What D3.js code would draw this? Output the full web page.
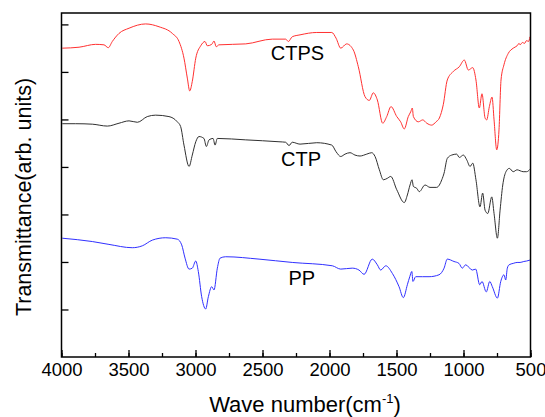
<!DOCTYPE html>
<html>
<head>
<meta charset="utf-8">
<script src="https://cdn.jsdelivr.net/npm/d3@7"></script>
<style>
  body { margin: 0; background: #fff; }
  text { font-family: "Liberation Sans", Arial, sans-serif; }
</style>
</head>
<body>
<svg id="chart" width="545" height="417"></svg>
<script>
// FTIR spectra, values (wavenumber, transmittance in arb. units)

const xTicks = [4000, 3500, 3000, 2500, 2000, 1500, 1000, 500];
const yTicks = [1, 2, 3, 4, 5, 6, 7];

const ctps = [
  [3994, 6.50], [3869, 6.52], [3745, 6.58], [3683, 6.57], [3651, 6.51], [3621, 6.64],
  [3571, 6.81], [3496, 6.92], [3372, 7.01], [3272, 6.95], [3173, 6.81], [3123, 6.64],
  [3086, 6.29], [3061, 5.87], [3043, 5.60], [3024, 5.80], [2998, 6.29], [2961, 6.55],
  [2929, 6.64], [2912, 6.55], [2879, 6.58], [2862, 6.65], [2845, 6.53], [2825, 6.57],
  [2625, 6.59], [2427, 6.69], [2327, 6.69], [2307, 6.64], [2278, 6.74], [2220, 6.78],
  [2095, 6.83], [1983, 6.83], [1951, 6.71], [1916, 6.50], [1872, 6.59], [1822, 6.46],
  [1785, 6.11], [1735, 5.48], [1703, 5.40], [1673, 5.56], [1643, 5.41], [1603, 4.92],
  [1573, 5.06], [1541, 5.27], [1498, 5.06], [1469, 4.95], [1442, 4.80], [1412, 5.06],
  [1394, 5.16], [1382, 5.24], [1374, 5.06], [1337, 4.95], [1304, 4.99], [1274, 4.92],
  [1237, 4.88], [1205, 4.95], [1180, 5.03], [1151, 5.31], [1121, 5.83], [1076, 6.01],
  [1031, 6.11], [994, 6.25], [964, 6.04], [931, 6.09], [907, 5.83], [882, 5.24],
  [862, 5.54], [839, 5.03], [827, 4.99], [807, 5.27], [787, 5.47], [772, 4.99],
  [752, 4.36], [735, 4.78], [720, 5.83], [698, 6.15], [666, 6.39], [629, 6.50],
  [600, 6.55], [585, 6.60], [578, 6.57], [560, 6.62], [545, 6.60], [529, 6.66],
  [515, 6.64], [504, 6.74]
];

const ctp = [
  [3994, 4.91], [3894, 4.91], [3770, 4.90], [3658, 4.86], [3571, 4.92], [3496, 4.97],
  [3434, 4.94], [3360, 5.06], [3297, 5.09], [3198, 5.06], [3136, 4.95], [3111, 4.85],
  [3086, 4.46], [3048, 4.01], [3024, 4.25], [2998, 4.53], [2974, 4.64], [2937, 4.60],
  [2919, 4.43], [2899, 4.57], [2869, 4.60], [2854, 4.46], [2837, 4.60], [2625, 4.57],
  [2377, 4.53], [2327, 4.52], [2302, 4.45], [2278, 4.52], [2220, 4.48], [2095, 4.51],
  [1983, 4.46], [1951, 4.32], [1916, 4.22], [1884, 4.27], [1847, 4.30], [1810, 4.25],
  [1772, 4.23], [1722, 4.27], [1685, 4.30], [1660, 4.22], [1628, 3.94], [1598, 3.73],
  [1569, 3.76], [1543, 3.80], [1498, 3.52], [1442, 3.25], [1419, 3.41], [1399, 3.62],
  [1384, 3.73], [1374, 3.59], [1349, 3.55], [1330, 3.48], [1287, 3.62], [1250, 3.57],
  [1200, 3.57], [1180, 3.62], [1162, 3.73], [1145, 3.87], [1121, 4.18], [1088, 4.25],
  [1051, 4.27], [1031, 4.20], [1001, 4.25], [976, 4.15], [951, 4.01], [931, 4.08],
  [907, 3.73], [877, 3.16], [857, 3.45], [839, 3.09], [819, 3.02], [789, 3.37],
  [772, 3.02], [747, 2.50], [727, 3.09], [707, 3.62], [683, 3.90], [658, 3.97],
  [629, 3.90], [600, 3.94], [578, 3.92], [555, 3.90], [529, 3.90], [504, 3.95]
];

const pp = [
  [3994, 2.50], [3770, 2.43], [3646, 2.37], [3472, 2.30], [3397, 2.34], [3322, 2.46],
  [3222, 2.51], [3136, 2.48], [3103, 2.36], [3078, 2.08], [3048, 1.85], [3024, 1.87],
  [2998, 2.02], [2979, 1.80], [2954, 1.27], [2924, 1.01], [2904, 1.27], [2879, 1.48],
  [2862, 1.41], [2837, 1.87], [2817, 2.08], [2775, 2.11], [2526, 2.06], [2278, 1.99],
  [1979, 1.92], [1916, 1.85], [1830, 1.87], [1780, 1.83], [1742, 1.74], [1681, 2.06],
  [1643, 1.94], [1618, 1.83], [1580, 1.92], [1531, 1.76], [1481, 1.48], [1449, 1.25],
  [1419, 1.52], [1401, 1.69], [1386, 1.80], [1377, 1.59], [1357, 1.69], [1307, 1.69],
  [1257, 1.69], [1183, 1.73], [1145, 1.87], [1121, 2.06], [1071, 2.01], [1034, 1.97],
  [1009, 1.87], [984, 1.94], [934, 1.83], [909, 1.85], [879, 1.52], [862, 1.59],
  [830, 1.37], [804, 1.59], [785, 1.48], [747, 1.24], [722, 1.59], [698, 1.73],
  [685, 1.62], [673, 1.87], [660, 1.94], [629, 1.97], [600, 1.99], [578, 1.99],
  [550, 2.01], [529, 2.02], [504, 2.04]
];

const seriesNames = ["CTPS", "CTP", "PP"];
const seriesColors = ["#ff3030", "#303030", "#3030ff"];
// where each curve's name sits (wavenumber, value)
const labelPos = [[2239, 6.25], [2212, 4.03], [2207, 1.51]];

const width = 545, height = 417;
const margin = { top: 13, right: 14.5, bottom: 60, left: 61.5 };

const svg = d3.select("#chart");

const x = d3.scaleLinear().domain([4000, 500]).range([margin.left, width - margin.right]);
const y = d3.scaleLinear().domain([0, 7.24]).range([height - margin.bottom, margin.top]);

const line = d3.line()
  .x(d => x(d[0]))
  .y(d => y(d[1]))
  .curve(d3.curveMonotoneX);

[ctps, ctp, pp].forEach((s, i) => {
  svg.append("path")
    .datum(s)
    .attr("fill", "none")
    .attr("stroke", seriesColors[i])
    .attr("stroke-width", 1)
    .attr("d", line);
});

svg.append("g")
  .selectAll("text")
  .data(seriesNames)
  .join("text")
  .attr("x", (d, i) => x(labelPos[i][0]))
  .attr("y", (d, i) => y(labelPos[i][1]))
  .attr("text-anchor", "middle")
  .attr("font-size", 20)
  .attr("fill", "#000")
  .text(d => d);

// minor x ticks
svg.append("g")
  .attr("transform", `translate(0,${height - margin.bottom})`)
  .call(d3.axisBottom(x).tickValues(d3.range(4000, 499, -250)).tickSize(-4).tickFormat(""))
  .call(g => g.select(".domain").remove())
  .call(g => g.selectAll("line").attr("stroke-width", 1.3));

// major x ticks + labels
svg.append("g")
  .attr("transform", `translate(0,${height - margin.bottom})`)
  .call(d3.axisBottom(x).tickValues(xTicks).tickSize(-7).tickPadding(6).tickFormat(d3.format("d")))
  .call(g => g.select(".domain").remove())
  .call(g => g.selectAll("line").attr("stroke-width", 1.3))
  .call(g => g.selectAll("text").attr("font-size", 18.5).attr("fill", "#000")
    .attr("font-family", "Liberation Sans, Arial, sans-serif"));

// y ticks, no labels
svg.append("g")
  .attr("transform", `translate(${margin.left},0)`)
  .call(d3.axisLeft(y).tickValues(yTicks).tickSize(-7).tickFormat(""))
  .call(g => g.select(".domain").remove())
  .call(g => g.selectAll("line").attr("stroke-width", 1.3));

// frame
svg.append("rect")
  .attr("x", margin.left)
  .attr("y", margin.top)
  .attr("width", width - margin.left - margin.right)
  .attr("height", height - margin.top - margin.bottom)
  .attr("fill", "none")
  .attr("stroke", "#000")
  .attr("stroke-width", 1.5);

// axis titles
const xTitle = svg.append("text")
  .attr("x", (margin.left + width - margin.right) / 2 + 9)
  .attr("y", 412)
  .attr("text-anchor", "middle")
  .attr("font-size", 22)
  .attr("fill", "#000");
xTitle.append("tspan").text("Wave number(cm");
xTitle.append("tspan").attr("font-size", 13).attr("dy", -9).text("-1");
xTitle.append("tspan").attr("dy", 9).text(")");

svg.append("text")
  .attr("transform", `translate(31,${197}) rotate(-90)`)
  .attr("text-anchor", "middle")
  .attr("font-size", 21.5)
  .attr("fill", "#000")
  .text("Transmittance(arb. units)");
</script>
</body>
</html>
